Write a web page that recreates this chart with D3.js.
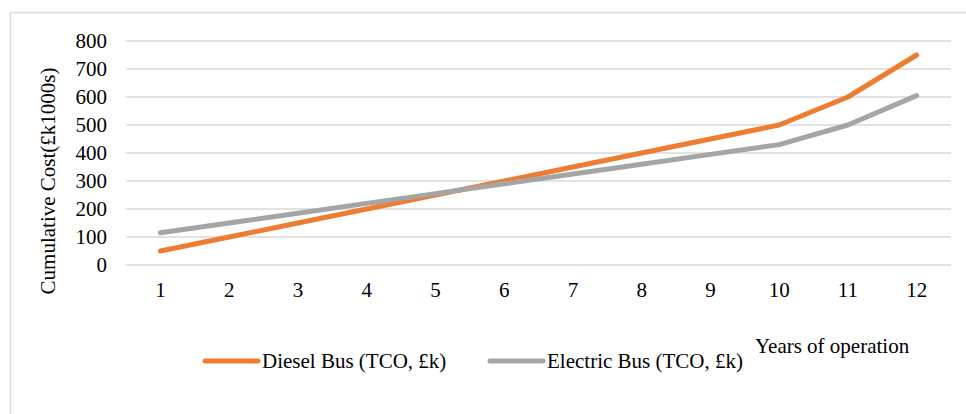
<!DOCTYPE html>
<html>
<head>
<meta charset="utf-8">
<script src="https://cdn.jsdelivr.net/npm/d3@7.9.0/dist/d3.min.js"></script>
<style>
  body { margin: 0; background: #fff; }
  svg { display: block; font-family: 'Liberation Serif', 'Times New Roman', serif; }
</style>
</head>
<body>
<svg id="chart" width="966" height="414"></svg>
<script>
const years = ['1', '2', '3', '4', '5', '6', '7', '8', '9', '10', '11', '12'];
const dieselValues = [50, 100, 150, 200, 250, 300, 350, 400, 450, 500, 600, 750];
const electricValues = [115, 150, 185, 220, 255, 290, 325, 360, 395, 430, 500, 605];
const yTicks = [0, 100, 200, 300, 400, 500, 600, 700, 800];

const series = [
  { name: 'Diesel Bus (TCO, £k)', values: dieselValues, color: '#ED7D31' },
  { name: 'Electric Bus (TCO, £k)', values: electricValues, color: '#A5A5A5' },
];

const FONT_SIZE = 21;

const svg = d3.select('#chart');

// chart frame (only top/left edges fall inside the window)
svg.append('rect')
  .attr('x', 10.5).attr('y', 12.5)
  .attr('width', 1000).attr('height', 500)
  .attr('fill', 'none')
  .attr('stroke', '#D9D9D9')
  .attr('stroke-width', 1.5);

const plot = { left: 126, right: 951, top: 41, bottom: 265 };

const x = d3.scaleBand()
  .domain(years)
  .range([plot.left, plot.right]);

const y = d3.scaleLinear()
  .domain([0, 800])
  .range([plot.bottom, plot.top]);

// gridlines
svg.append('g')
  .selectAll('line')
  .data(yTicks)
  .join('line')
  .attr('x1', plot.left).attr('x2', plot.right)
  .attr('y1', (d) => y(d)).attr('y2', (d) => y(d))
  .attr('stroke', '#D9D9D9')
  .attr('stroke-width', 1.5);

// y axis labels
const yAxis = svg.append('g')
  .attr('transform', `translate(${plot.left - 19},0)`)
  .call(d3.axisLeft(y).tickValues(yTicks).tickSize(0).tickPadding(0));
yAxis.select('.domain').remove();
yAxis.selectAll('text')
  .attr('font-family', 'Liberation Serif')
  .attr('font-size', FONT_SIZE)
  .attr('fill', '#000')
  .attr('dy', '0.3em');

// x axis labels
const xAxis = svg.append('g')
  .attr('transform', `translate(0,${plot.bottom})`)
  .call(d3.axisBottom(x).tickSize(0).tickPadding(17));
xAxis.select('.domain').remove();
xAxis.selectAll('text')
  .attr('font-family', 'Liberation Serif')
  .attr('font-size', FONT_SIZE)
  .attr('fill', '#000');

// lines
const line = d3.line()
  .x((d, i) => x(years[i]) + x.bandwidth() / 2)
  .y((d) => y(d));

svg.append('g')
  .selectAll('path')
  .data(series)
  .join('path')
  .attr('d', (d) => line(d.values))
  .attr('fill', 'none')
  .attr('stroke', (d) => d.color)
  .attr('stroke-width', 5)
  .attr('stroke-linecap', 'round')
  .attr('stroke-linejoin', 'round');

// y axis title
svg.append('text')
  .attr('transform', 'translate(55,181) rotate(-90)')
  .attr('text-anchor', 'middle')
  .attr('font-size', FONT_SIZE)
  .text('Cumulative Cost(£k1000s)');

// x axis title
svg.append('text')
  .attr('x', 755)
  .attr('y', 353)
  .attr('font-size', FONT_SIZE)
  .text('Years of operation');

// legend
const legendX = [205, 490];
const legend = svg.append('g')
  .selectAll('g')
  .data(series)
  .join('g')
  .attr('transform', (d, i) => `translate(${legendX[i]},361)`);

legend.append('line')
  .attr('x1', 0).attr('x2', 53)
  .attr('stroke', (d) => d.color)
  .attr('stroke-width', 5)
  .attr('stroke-linecap', 'round');

legend.append('text')
  .attr('x', 57)
  .attr('y', 7)
  .attr('font-size', FONT_SIZE)
  .text((d) => d.name);
</script>
</body>
</html>
